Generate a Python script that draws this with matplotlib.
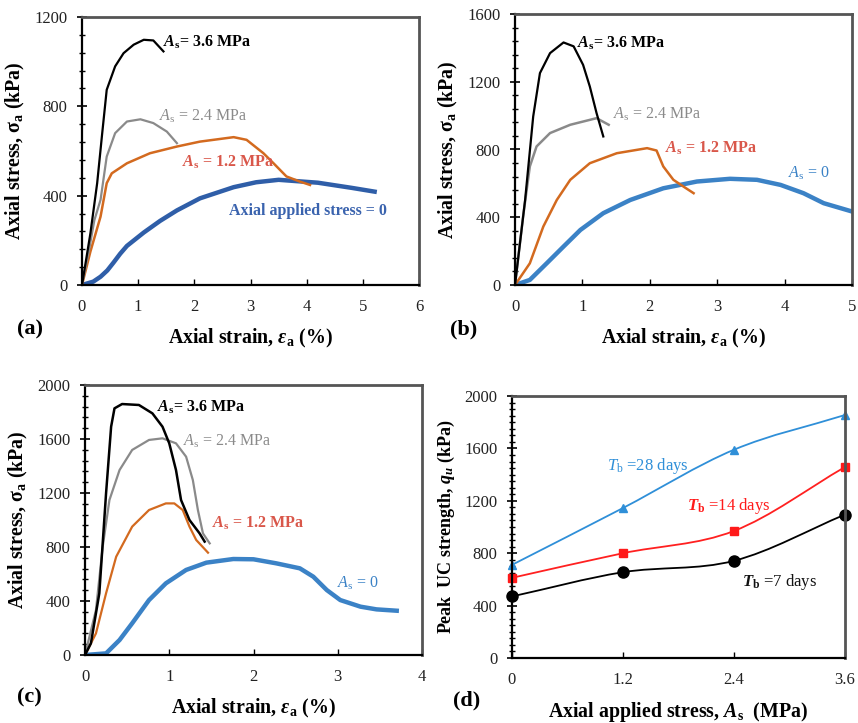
import numpy as np
import matplotlib
matplotlib.use("Agg")
import matplotlib.pyplot as plt
from matplotlib.ticker import MultipleLocator
from matplotlib.path import Path
from matplotlib.patches import PathPatch

plt.rcParams['font.family'] = ['Liberation Serif', 'DejaVu Serif']
plt.rcParams['mathtext.fontset'] = 'custom'
plt.rcParams['mathtext.rm'] = 'Liberation Serif'
plt.rcParams['mathtext.it'] = 'Liberation Serif:italic'
plt.rcParams['mathtext.bf'] = 'Liberation Serif:bold'
plt.rcParams['mathtext.bfit'] = 'Liberation Serif:bold:italic'
plt.rcParams['mathtext.sf'] = 'Liberation Serif:bold:italic'

# ---------------- data ----------------
# Panel (a)
a36_x = [0, 0.15, 0.27, 0.36, 0.44, 0.59, 0.74, 0.92, 1.10, 1.27, 1.45]
a36_y = [0, 232, 456, 680, 874, 979, 1038, 1076, 1098, 1095, 1046]
a24_x = [0, 0.12, 0.22, 0.33, 0.44, 0.59, 0.80, 1.04, 1.27, 1.51, 1.69]
a24_y = [0, 150, 290, 381, 575, 680, 732, 742, 725, 687, 635]
a12_x = [0, 0.15, 0.33, 0.44, 0.53, 0.80, 1.21, 1.69, 2.10, 2.70, 2.93, 3.23, 3.41, 3.64, 3.88, 4.06]
a12_y = [0, 150, 306, 456, 500, 545, 590, 620, 642, 662, 650, 590, 545, 486, 463, 448]
a0_x = [0, 0.20, 0.33, 0.45, 0.56, 0.68, 0.80, 1.10, 1.39, 1.69, 2.10, 2.70, 3.10, 3.50, 4.20, 4.80, 5.21]
a0_y = [0, 15, 37, 65, 100, 140, 175, 235, 287, 334, 388, 438, 460, 471, 458, 435, 418]

# Panel (b)
b36_x = [0, 0.15, 0.27, 0.37, 0.52, 0.72, 0.87, 1.01, 1.11, 1.21, 1.31]
b36_y = [0, 502, 995, 1251, 1369, 1432, 1409, 1300, 1172, 1015, 877]
b24_x = [0, 0.12, 0.22, 0.32, 0.52, 0.82, 1.11, 1.21, 1.39]
b24_y = [0, 404, 700, 818, 897, 946, 975, 985, 946]
b12_x = [0, 0.22, 0.42, 0.62, 0.82, 1.11, 1.51, 1.81, 1.96, 2.10, 2.20, 2.35, 2.50, 2.65]
b12_y = [0, 128, 345, 502, 621, 719, 778, 798, 808, 794, 700, 621, 581, 542]
b0_x = [0, 0.22, 0.47, 0.72, 0.97, 1.31, 1.71, 2.20, 2.70, 3.19, 3.59, 3.94, 4.28, 4.58, 5.0]
b0_y = [0, 30, 128, 227, 325, 424, 502, 571, 611, 627, 621, 591, 542, 483, 434]

# Panel (c)
c36_x = [0, 0.07, 0.17, 0.25, 0.31, 0.35, 0.44, 0.64, 0.80, 0.92, 1.00, 1.08, 1.14, 1.24, 1.36, 1.42]
c36_y = [0, 86, 457, 1198, 1691, 1827, 1859, 1852, 1790, 1691, 1568, 1370, 1148, 1000, 901, 840]
c24_x = [0, 0.13, 0.21, 0.29, 0.41, 0.56, 0.76, 0.92, 1.08, 1.20, 1.28, 1.34, 1.40, 1.48]
c24_y = [0, 333, 802, 1148, 1370, 1519, 1593, 1605, 1568, 1469, 1296, 1074, 901, 827]
c12_x = [0, 0.13, 0.25, 0.37, 0.56, 0.76, 0.96, 1.06, 1.16, 1.24, 1.32, 1.46]
c12_y = [0, 160, 457, 728, 951, 1074, 1123, 1123, 1074, 951, 852, 758]
c0_x = [0, 0.25, 0.41, 0.56, 0.76, 0.96, 1.20, 1.44, 1.76, 2.00, 2.27, 2.55, 2.71, 2.87, 3.03, 3.27, 3.46, 3.70]
c0_y = [0, 12, 111, 235, 407, 531, 630, 684, 711, 709, 679, 642, 580, 481, 407, 358, 338, 328]

# Panel (d)
applied_stress = [0, 1.2, 2.4, 3.6]
q28 = [711, 1145, 1590, 1855]
q14 = [612, 800, 970, 1458]
q7 = [470, 655, 742, 1095]
xticks_d = ["0", "1.2", "2.4", "3.6"]

BLACK = '#000000'
GRAY = '#8a8a8a'
ORANGE = '#d36a1f'
RED_TXT = '#d9574a'
BLUE_A = '#2f5ea8'
BLUE_BC = '#3b82c6'

LABEL_FS = 14.3

fig = plt.figure(figsize=(8.58, 7.23), dpi=100)


def style_axes(ax, minor_step):
    for s in ['left', 'bottom']:
        ax.spines[s].set_color('black')
        ax.spines[s].set_linewidth(1.6)
    for s in ['top', 'right']:
        ax.spines[s].set_color('#555555')
        ax.spines[s].set_linewidth(2.0)
    ax.yaxis.set_minor_locator(MultipleLocator(minor_step))
    ax.tick_params(axis='y', which='major', direction='inout', length=7, width=1.2,
                   labelsize=12, pad=7, labelcolor='#222222')
    ax.tick_params(axis='y', which='minor', direction='inout', length=4, width=1.0)
    ax.tick_params(axis='x', which='major', direction='in', length=4, width=1.0,
                   labelsize=12, pad=10, labelcolor='#222222')
    ax.tick_params(axis='x', which='minor', length=0)
    ax.tick_params(top=False, right=False)


def ann(ax, x, y, s, color, bold):
    ax.text(x, y, s, color=color, fontsize=11.5,
            fontweight='bold' if bold else 'normal', va='center', ha='left')


ylab = r"Axial stress, σ$_\mathbf{a}$ (kPa)"
xlab = r"Axial strain, $\mathsf{ε}_\mathbf{a}$ (%)"
as36 = r"$\boldsymbol{A}_\mathbf{s}$= 3.6 MPa"
as24 = r"$A_\mathrm{s}$ = 2.4 MPa"
as12 = r"$\boldsymbol{A}_\mathbf{s}$ = 1.2 MPa"
as0 = r"$A_\mathrm{s}$ = 0"

# ---- (a)
ax = fig.add_axes([82/858, 1-285/723, 337/858, 268/723])
ax.plot(a0_x, a0_y, color=BLUE_A, lw=3.2)
ax.plot(a12_x, a12_y, color=ORANGE, lw=1.8)
ax.plot(a24_x, a24_y, color=GRAY, lw=1.6)
ax.plot(a36_x, a36_y, color=BLACK, lw=1.6)
ax.set_xlim(0, 6); ax.set_ylim(0, 1200)
ax.set_xticks(range(0, 7)); ax.set_yticks([0, 400, 800, 1200])
style_axes(ax, 80)
ann(ax, 1.44, 1088, as36, BLACK, True)
ann(ax, 1.37, 757, as24, GRAY, False)
ann(ax, 1.78, 551, as12, RED_TXT, True)
ann(ax, 2.62, 332, "Axial applied stress = 0", '#3a63ae', True)
ax.set_xlabel(xlab, fontsize=LABEL_FS, fontweight='bold', labelpad=9)
ax.set_ylabel(ylab, fontsize=LABEL_FS, fontweight='bold', labelpad=5)
fig.text(17/858, 1-329/723, "(a)", fontsize=16, fontweight='bold', va='center')

# ---- (b)
ax = fig.add_axes([515/858, 1-285/723, 337/858, 271/723])
ax.plot(b0_x, b0_y, color=BLUE_BC, lw=3.2)
ax.plot(b12_x, b12_y, color=ORANGE, lw=1.8)
ax.plot(b24_x, b24_y, color=GRAY, lw=1.8)
ax.plot(b36_x, b36_y, color=BLACK, lw=1.6)
ax.set_xlim(0, 5); ax.set_ylim(0, 1600)
ax.set_xticks(range(0, 6)); ax.set_yticks([0, 400, 800, 1200, 1600])
style_axes(ax, 80)
ann(ax, 0.92, 1428, as36, BLACK, True)
ann(ax, 1.45, 1009, as24, GRAY, False)
ann(ax, 2.23, 808, as12, RED_TXT, True)
ann(ax, 4.05, 661, as0, BLUE_BC, False)
ax.set_xlabel(xlab, fontsize=LABEL_FS, fontweight='bold', labelpad=9)
ax.set_ylabel(ylab, fontsize=LABEL_FS, fontweight='bold', labelpad=5)
fig.text(450/858, 1-329/723, "(b)", fontsize=16, fontweight='bold', va='center')

# ---- (c)
ax = fig.add_axes([85/858, 1-655/723, 337/858, 270/723])
ax.plot(c0_x, c0_y, color=BLUE_BC, lw=3.2)
ax.plot(c12_x, c12_y, color=ORANGE, lw=1.6)
ax.plot(c24_x, c24_y, color=GRAY, lw=1.6)
ax.plot(c36_x, c36_y, color=BLACK, lw=1.8)
ax.set_xlim(0, 4); ax.set_ylim(0, 2000)
ax.set_xticks(range(0, 5)); ax.set_yticks([0, 400, 800, 1200, 1600, 2000])
style_axes(ax, 80)
ann(ax, 0.855, 1837, as36, BLACK, True)
ann(ax, 1.16, 1585, as24, GRAY, False)
ann(ax, 1.51, 978, as12, RED_TXT, True)
ann(ax, 2.99, 533, as0, BLUE_BC, False)
ax.set_xlabel(xlab, fontsize=LABEL_FS, fontweight='bold', labelpad=9)
ax.set_ylabel(ylab, fontsize=LABEL_FS, fontweight='bold', labelpad=5)
fig.text(17/858, 1-697/723, "(c)", fontsize=16, fontweight='bold', va='center')


# ---- (d)
def smooth_path(ax, xs, ys, color, lw):
    # Catmull-Rom style smoothed line (like a spreadsheet "smoothed line")
    xs = np.asarray(xs, float); ys = np.asarray(ys, float)
    px = np.concatenate([[2*xs[0]-xs[1]], xs, [2*xs[-1]-xs[-2]]])
    py = np.concatenate([[2*ys[0]-ys[1]], ys, [2*ys[-1]-ys[-2]]])
    verts = [(xs[0], ys[0])]
    codes = [Path.MOVETO]
    for i in range(1, len(px)-2):
        c1 = (px[i] + (px[i+1]-px[i-1])/6, py[i] + (py[i+1]-py[i-1])/6)
        c2 = (px[i+1] - (px[i+2]-px[i])/6, py[i+1] - (py[i+2]-py[i])/6)
        verts += [c1, c2, (px[i+1], py[i+1])]
        codes += [Path.CURVE4]*3
    ax.add_patch(PathPatch(Path(verts, codes), fc='none', ec=color, lw=lw, clip_on=False))


ax = fig.add_axes([512/858, 1-658/723, 333/858, 262/723])
smooth_path(ax, applied_stress, q28, '#2f8fd8', 1.3)
smooth_path(ax, applied_stress, q14, '#ff2020', 1.3)
smooth_path(ax, applied_stress, q7, '#000000', 1.3)
ax.plot(applied_stress, q28, ls='none', marker='^', ms=6, color='#2f8fd8', clip_on=False)
ax.plot(applied_stress, q14, ls='none', marker='s', ms=6, color='#ff1a1a', clip_on=False)
ax.plot(applied_stress, q7, ls='none', marker='o', ms=8, color='#000000', clip_on=False)
ax.set_xlim(0, 3.6); ax.set_ylim(0, 2000)
ax.set_xticks(applied_stress); ax.set_xticklabels(xticks_d)
ax.set_yticks([0, 400, 800, 1200, 1600, 2000])
style_axes(ax, 50)
ax.text(1.03, 1466, r"$T_\mathrm{b}$ =28 days", color='#2f8fd8', fontsize=12, va='center')
ax.text(1.89, 1160, r"$\boldsymbol{T}_\mathbf{b}$ =14 days", color='#ff1a1a', fontsize=12,
        va='center')
ax.text(2.49, 580, r"$\boldsymbol{T}_\mathbf{b}$ =7 days", color='#111111', fontsize=12,
        va='center')
ax.set_xlabel(r"Axial applied stress, $\boldsymbol{A}_\mathbf{s}$  (MPa)", fontsize=LABEL_FS,
              fontweight='bold', labelpad=9)
ax.set_ylabel(r"Peak  UC strength, $\boldsymbol{q}_\boldsymbol{u}$ (kPa)", fontsize=13,
              fontweight='bold', labelpad=5)
fig.text(453/858, 1-700/723, "(d)", fontsize=16, fontweight='bold', va='center')

fig.savefig("out.png", dpi=100)
